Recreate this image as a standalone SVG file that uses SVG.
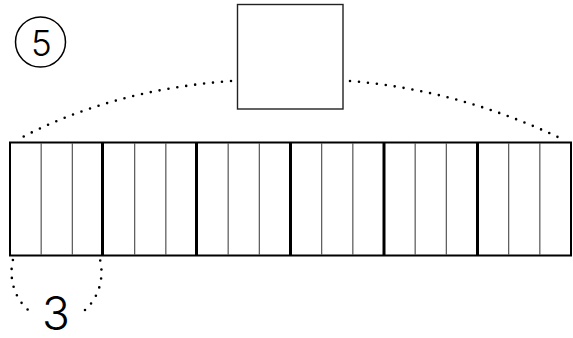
<svg xmlns="http://www.w3.org/2000/svg" width="573" height="338" viewBox="0 0 573 338">
<style>
.dot{fill:none;stroke:#000;stroke-width:2.6;stroke-linecap:round;stroke-dasharray:0 9}
.thin{stroke:#555;stroke-width:1.2}
.thick{stroke:#000;stroke-width:3}
.lbl{font-family:Inter,"Liberation Sans",sans-serif;font-weight:300;fill:#000;text-anchor:middle}
</style>
<rect width="573" height="338" fill="#fff"/>
<g id="badge">
<circle cx="40.5" cy="42" r="25" fill="none" stroke="#000" stroke-width="1.5"/>
<text class="lbl" x="41.5" y="55.5" font-size="35">5</text>
</g>
<g id="square">
<rect x="237.5" y="4.5" width="105.5" height="104.5" fill="#fff" stroke="#222" stroke-width="1.4"/>
</g>
<g id="bar">
<rect x="10" y="142.5" width="561" height="113" fill="#fff" stroke="#000" stroke-width="2"/>
<g class="thin">
<line x1="41.17" y1="143" x2="41.17" y2="255"/>
<line x1="72.33" y1="143" x2="72.33" y2="255"/>
<line x1="134.67" y1="143" x2="134.67" y2="255"/>
<line x1="165.83" y1="143" x2="165.83" y2="255"/>
<line x1="228.17" y1="143" x2="228.17" y2="255"/>
<line x1="259.33" y1="143" x2="259.33" y2="255"/>
<line x1="321.67" y1="143" x2="321.67" y2="255"/>
<line x1="352.83" y1="143" x2="352.83" y2="255"/>
<line x1="415.17" y1="143" x2="415.17" y2="255"/>
<line x1="446.33" y1="143" x2="446.33" y2="255"/>
<line x1="508.67" y1="143" x2="508.67" y2="255"/>
<line x1="539.83" y1="143" x2="539.83" y2="255"/>
</g>
<g class="thick">
<line x1="102.5" y1="143" x2="102.5" y2="255"/>
<line x1="196.5" y1="143" x2="196.5" y2="255"/>
<line x1="290.5" y1="143" x2="290.5" y2="255"/>
<line x1="384" y1="143" x2="384" y2="255"/>
<line x1="477.5" y1="143" x2="477.5" y2="255"/>
</g>
</g>
<g id="connectors">
<path class="dot" d="M 231 81 Q 110 90 17 140"/>
<path class="dot" d="M 350 81 Q 460 90 562 139"/>
<path class="dot" d="M 12.9 260 A 45 49 0 0 0 32.3 313.3"/>
<path class="dot" d="M 85 310 A 45 49 0 0 0 99.6 258"/>
</g>
<g id="count">
<text class="lbl" x="56" y="330" font-size="46">3</text>
</g>
</svg>
